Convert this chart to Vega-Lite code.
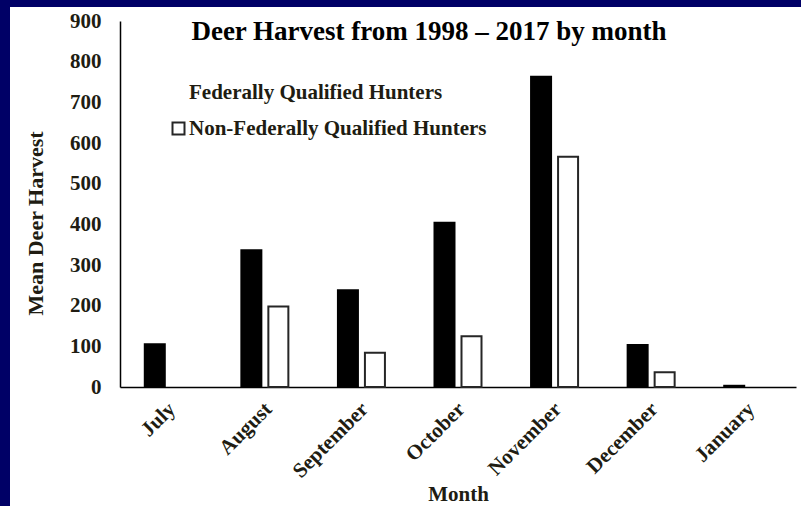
{
  "$schema": "https://vega.github.io/schema/vega-lite/v6.json",
  "autosize": {"type": "none"},
  "width": 791,
  "height": 499,
  "padding": {"left": 10, "top": 7, "right": 0, "bottom": 0},
  "background": "#000066",
  "config": {
    "view": {"fill": "white", "stroke": null},
    "font": "Liberation Serif"
  },
  "title": {
    "text": "Deer Harvest from 1998 – 2017 by month",
    "font": "Liberation Serif",
    "fontWeight": "bold",
    "fontSize": 27,
    "color": "black",
    "orient": "none",
    "align": "center",
    "baseline": "alphabetic",
    "dx": 419,
    "dy": 33
  },
  "data": {
    "values": [
      {"Month": "July", "Group": "Federally Qualified Hunters", "Harvest": 105},
      {"Month": "August", "Group": "Federally Qualified Hunters", "Harvest": 336},
      {"Month": "August", "Group": "Non-Federally Qualified Hunters", "Harvest": 198},
      {"Month": "September", "Group": "Federally Qualified Hunters", "Harvest": 238},
      {"Month": "September", "Group": "Non-Federally Qualified Hunters", "Harvest": 84},
      {"Month": "October", "Group": "Federally Qualified Hunters", "Harvest": 404},
      {"Month": "October", "Group": "Non-Federally Qualified Hunters", "Harvest": 125},
      {"Month": "November", "Group": "Federally Qualified Hunters", "Harvest": 763},
      {"Month": "November", "Group": "Non-Federally Qualified Hunters", "Harvest": 566},
      {"Month": "December", "Group": "Federally Qualified Hunters", "Harvest": 103},
      {"Month": "December", "Group": "Non-Federally Qualified Hunters", "Harvest": 36},
      {"Month": "January", "Group": "Federally Qualified Hunters", "Harvest": 3}
    ]
  },
  "mark": {"type": "bar", "strokeWidth": 2},
  "encoding": {
    "x": {
      "field": "Month",
      "type": "nominal",
      "sort": ["July", "August", "September", "October", "November", "December", "January"],
      "scale": {"range": [110, 786], "paddingInner": 0, "paddingOuter": 0},
      "axis": {
        "title": "Month",
        "offset": -119,
        "ticks": false,
        "domainColor": "black",
        "domainWidth": 1.5,
        "labelAngle": -45,
        "labelFont": "Liberation Serif",
        "labelFontWeight": "bold",
        "labelFontSize": 21,
        "labelColor": "#201c12",
        "labelPadding": 11,
        "labelOffset": -4,
        "titleFont": "Liberation Serif",
        "titleFontWeight": "bold",
        "titleFontSize": 21,
        "titleColor": "#201c12",
        "titlePadding": 2
      }
    },
    "xOffset": {
      "field": "Group",
      "type": "nominal",
      "scale": {
        "domain": ["Federally Qualified Hunters", "Non-Federally Qualified Hunters"],
        "paddingInner": 0.259,
        "paddingOuter": 0.918
      }
    },
    "y": {
      "field": "Harvest",
      "type": "quantitative",
      "scale": {"domain": [0, 900], "range": [380, 14], "nice": false},
      "axis": {
        "title": "Mean Deer Harvest",
        "offset": -110,
        "values": [0, 100, 200, 300, 400, 500, 600, 700, 800, 900],
        "ticks": false,
        "grid": false,
        "domainColor": "black",
        "domainWidth": 1.5,
        "labelFont": "Liberation Serif",
        "labelFontWeight": "bold",
        "labelFontSize": 21,
        "labelColor": "#201c12",
        "labelPadding": 19,
        "labelFlush": false,
        "titleFont": "Liberation Serif",
        "titleFontWeight": "bold",
        "titleFontSize": 22,
        "titleColor": "#201c12",
        "titlePadding": 22,
        "titleY": 216
      }
    },
    "fill": {
      "field": "Group",
      "type": "nominal",
      "scale": {
        "domain": ["Federally Qualified Hunters", "Non-Federally Qualified Hunters"],
        "range": ["black", "white"]
      },
      "legend": {
        "title": null,
        "orient": "none",
        "legendX": 158,
        "legendY": 75,
        "padding": 0,
        "symbolType": "square",
        "symbolSize": 144,
        "symbolStrokeWidth": 2,
        "labelFont": "Liberation Serif",
        "labelFontWeight": "bold",
        "labelFontSize": 21,
        "labelColor": "#201c12",
        "labelOffset": 0,
        "rowPadding": 14,
        "labelLimit": 500,
        "encode": {
          "symbols": {
            "update": {
              "opacity": {"signal": "datum.value === 'Federally Qualified Hunters' ? 0 : 1"}
            }
          }
        }
      }
    },
    "stroke": {
      "field": "Group",
      "type": "nominal",
      "scale": {
        "domain": ["Federally Qualified Hunters", "Non-Federally Qualified Hunters"],
        "range": ["black", "#262626"]
      },
      "legend": null
    }
  }
}
